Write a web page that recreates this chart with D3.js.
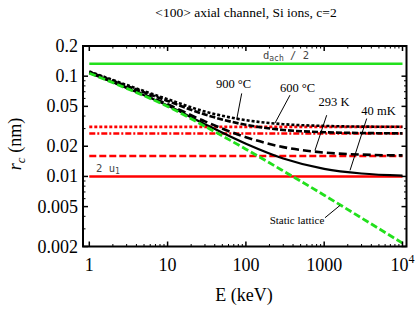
<!DOCTYPE html>
<html><head><meta charset="utf-8">
<script src="https://cdn.jsdelivr.net/npm/d3@7"></script>
<style>
body{margin:0;background:#fff;}
svg text{font-family:"Liberation Serif","Times New Roman",serif;}
</style></head>
<body><svg id="c" width="415" height="310"></svg>
<script>
// ---------- data ----------
const energies = [1, 3, 10, 30, 100, 300, 1000, 3000, 10000]; // keV
const staticLattice = [0.107, 0.0755, 0.0499, 0.0316, 0.0187, 0.01135, 0.0065, 0.00385, 0.00216];
const rc40mK  = [0.1075, 0.0762, 0.0509, 0.0332, 0.0212, 0.0151, 0.0119, 0.0107, 0.0102];
const rc293K  = [0.1082, 0.0772, 0.0524, 0.0354, 0.0246, 0.0196, 0.0173, 0.0165, 0.0162];
const rc600C  = [0.1103, 0.0801, 0.0566, 0.0414, 0.0327, 0.0291, 0.0276, 0.0271, 0.0269];
const rc900C  = [0.1115, 0.0817, 0.0589, 0.0444, 0.0364, 0.0332, 0.0319, 0.0314, 0.0313];
const dAchHalf = 0.133;
const twoU1 = 0.0100;
const limit293K = 0.0160, limit600C = 0.0268, limit900C = 0.0312;
const xTickValues = [1, 10, 100, 1000, 10000];
const xTickLabels = ["1", "10", "100", "1000", "10^4"];
const yTickValues = [0.002, 0.005, 0.01, 0.02, 0.05, 0.1, 0.2];
const yTickLabels = ["0.002", "0.005", "0.01", "0.02", "0.05", "0.1", "0.2"];
const title = "<100> axial channel, Si ions, c=2";

const svg = d3.select("#c");
const x = d3.scaleLog().domain([0.831, 11250]).range([83, 406.5]);
const y = d3.scaleLog().domain([0.002, 0.2]).range([246.5, 46]);
const E0 = 1, E1 = 10000;

const line = d3.line().x(d => x(d[0])).y(d => y(d[1])).curve(d3.curveMonotoneX);
const g = svg.append("g");

// horizontal reference lines
const hlines = [
  {v: dAchHalf, color: "#22e01c", dash: null, w: 2.6},
  {v: twoU1, color: "#ff0000", dash: null, w: 2.4},
  {v: limit293K, color: "#ff0000", dash: "7,3", w: 2.6},
  {v: limit600C, color: "#ff0000", dash: "6,2,2,2", w: 2.6},
  {v: limit900C, color: "#ff0000", dash: "3,2", w: 2.6}
];
hlines.forEach(h => {
  g.append("path").attr("d", line([[E0, h.v], [E1, h.v]]))
    .attr("fill", "none").attr("stroke", h.color).attr("stroke-width", h.w)
    .attr("stroke-dasharray", h.dash);
});

const curves = [
  {vals: rc900C, dash: "3,2", w: 2.6},
  {vals: rc600C, dash: "6,2", w: 2.6},
  {vals: rc293K, dash: "8,4", w: 2.6},
  {vals: rc40mK, dash: null, w: 2.2}
];
curves.forEach(c => {
  g.append("path").attr("d", line(energies.map((e, i) => [e, c.vals[i]])))
    .attr("fill", "none").attr("stroke", "#000").attr("stroke-width", c.w)
    .attr("stroke-dasharray", c.dash);
});
g.append("path").attr("d", line(energies.map((e, i) => [e, staticLattice[i]])))
  .attr("fill", "none").attr("stroke", "#22e01c").attr("stroke-width", 2.8)
  .attr("stroke-dasharray", "7,3");

// annotations (positions in data units)
const notes = [
  {t: "900 °C", E: 69.5, r: 0.076, p: [[88.4, 0.0673], [76.3, 0.037]]},
  {t: "600 °C", E: 456, r: 0.0693, p: [[366, 0.0647], [235, 0.034]]},
  {t: "293 K", E: 1334, r: 0.0502, p: [[1076, 0.0408], [763, 0.0182]]},
  {t: "40 mK", E: 4940, r: 0.0408, p: [[3490, 0.0378], [2138, 0.0115]]},
  {t: "Static lattice", E: 450, r: 0.00332, p: [[1023, 0.00387], [1592, 0.00514]]}
];
notes.forEach(n => {
  svg.append("text").attr("x", x(n.E)).attr("y", y(n.r)).attr("text-anchor", "middle")
    .attr("font-size", n.t === "Static lattice" ? 11 : 12.5).text(n.t);
  svg.append("line").attr("x1", x(n.p[0][0])).attr("y1", y(n.p[0][1]))
    .attr("x2", x(n.p[1][0])).attr("y2", y(n.p[1][1]))
    .attr("stroke", "#000").attr("stroke-width", 1);
});
const dt = svg.append("text").attr("x", x(325)).attr("y", y(0.148)).attr("text-anchor", "middle")
  .attr("font-size", 10.5).attr("fill", "#444").style("font-family", "DejaVu Sans Mono");
dt.append("tspan").text("d");
dt.append("tspan").attr("font-size", 8).attr("dy", 2).text("ach");
dt.append("tspan").attr("dy", -2).text(" / 2");
const ut = svg.append("text").attr("x", x(1.22)).attr("y", y(0.011)).attr("text-anchor", "start")
  .attr("font-size", 10.5).attr("fill", "#444").style("font-family", "DejaVu Sans Mono");
ut.append("tspan").text("2 u");
ut.append("tspan").attr("font-size", 8).attr("dy", 2).text("1");

// frame
const [xl, xr] = x.range(); const [yb, yt] = y.range();
svg.append("rect").attr("x", xl).attr("y", yt).attr("width", xr - xl).attr("height", yb - yt)
  .attr("fill", "none").attr("stroke", "#000").attr("stroke-width", 2);

// ticks
const minorX = [];
for (let d = 1; d <= 1000; d *= 10) for (let k = 2; k <= 9; k++) minorX.push(d * k);
const minorY = [];
for (let d = 0.001; d < 0.2; d *= 10) for (let k = 1; k <= 9; k++) {
  const v = +(d * k).toPrecision(3);
  if (v > 0.002 && v < 0.2 && !yTickValues.some(t => Math.abs(t - v) < 1e-9)) minorY.push(v);
}
const tk = svg.append("g").attr("stroke", "#000");
xTickValues.forEach(v => {
  tk.append("line").attr("x1", x(v)).attr("x2", x(v)).attr("y1", yb).attr("y2", yb - 5).attr("stroke-width", 1.5);
  tk.append("line").attr("x1", x(v)).attr("x2", x(v)).attr("y1", yt).attr("y2", yt + 5).attr("stroke-width", 1.5);
});
minorX.forEach(v => {
  tk.append("line").attr("x1", x(v)).attr("x2", x(v)).attr("y1", yb).attr("y2", yb - 2.5).attr("stroke-width", 1);
  tk.append("line").attr("x1", x(v)).attr("x2", x(v)).attr("y1", yt).attr("y2", yt + 2.5).attr("stroke-width", 1);
});
yTickValues.forEach(v => {
  tk.append("line").attr("x1", xl).attr("x2", xl + 5).attr("y1", y(v)).attr("y2", y(v)).attr("stroke-width", 1.5);
  tk.append("line").attr("x1", xr).attr("x2", xr - 5).attr("y1", y(v)).attr("y2", y(v)).attr("stroke-width", 1.5);
});
minorY.forEach(v => {
  tk.append("line").attr("x1", xl).attr("x2", xl + 2.5).attr("y1", y(v)).attr("y2", y(v)).attr("stroke-width", 1);
  tk.append("line").attr("x1", xr).attr("x2", xr - 2.5).attr("y1", y(v)).attr("y2", y(v)).attr("stroke-width", 1);
});

// tick labels
xTickValues.forEach((v, i) => {
  const lab = xTickLabels[i];
  const t = svg.append("text").attr("x", x(v)).attr("y", 271).attr("text-anchor", "middle").attr("font-size", 18);
  if (lab.includes("^")) {
    const [b, e] = lab.split("^");
    t.append("tspan").text(b);
    t.append("tspan").attr("font-size", 12).attr("dy", -8).text(e);
  } else t.text(lab);
});
yTickValues.forEach((v, i) => {
  svg.append("text").attr("x", 78).attr("y", y(v) + 6).attr("text-anchor", "end").attr("font-size", 18).text(yTickLabels[i]);
});

// axis titles
svg.append("text").attr("x", 244).attr("y", 301).attr("text-anchor", "middle").attr("font-size", 18).text("E (keV)");
const yl = svg.append("text").attr("transform", "translate(21,144) rotate(-90)").attr("text-anchor", "middle").attr("font-size", 18);
yl.append("tspan").attr("font-style", "italic").text("r");
yl.append("tspan").attr("font-style", "italic").attr("font-size", 13).attr("dy", 4).text("c");
yl.append("tspan").attr("dy", -4).text(" (nm)");
svg.append("text").attr("x", 246).attr("y", 17).attr("text-anchor", "middle").attr("font-size", 13.5).text(title);
</script></body></html>
